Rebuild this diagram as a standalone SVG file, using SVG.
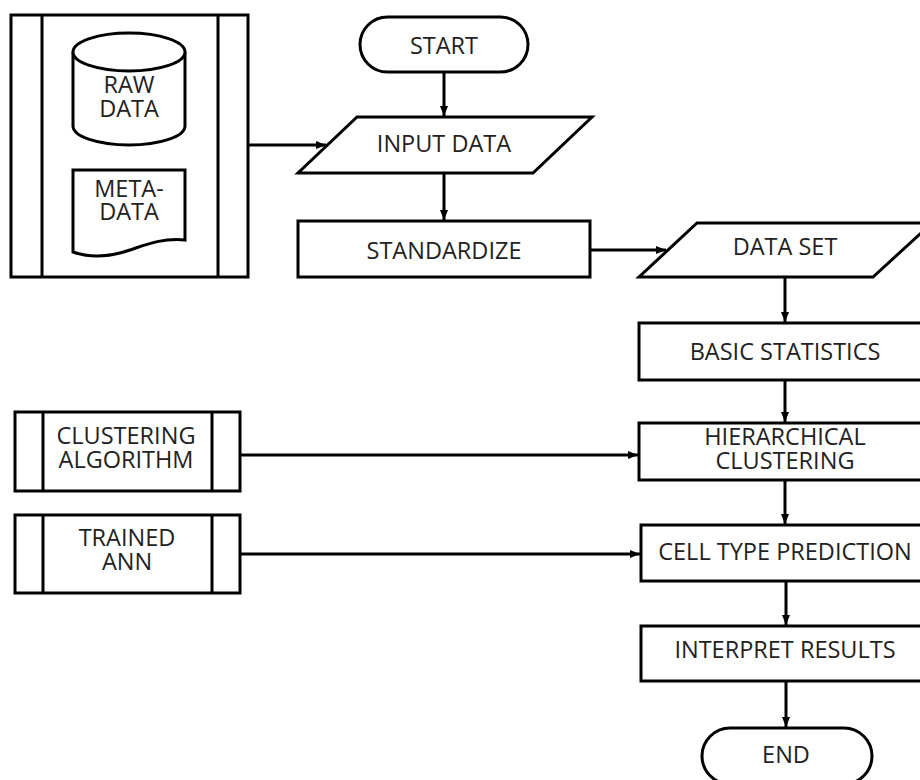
<svg xmlns="http://www.w3.org/2000/svg" width="920" height="780" viewBox="0 0 920 780">
<defs>
<style>
.s{fill:#fff;stroke:#000;stroke-width:3}
.l{fill:none;stroke:#000;stroke-width:3}
.c{fill:none;stroke:#000;stroke-width:3}
text{font-family:"Open Sans","Noto Sans","DejaVu Sans",sans-serif;font-size:23.5px;fill:#222;text-anchor:middle}
</style>
<marker id="ah" markerWidth="10" markerHeight="8" refX="10" refY="4" orient="auto" markerUnits="userSpaceOnUse">
<path d="M0,0 L10,4 L0,8 Z" fill="#000"/>
</marker>
</defs>
<rect width="920" height="780" fill="#fff"/>
<g id="connectors">
<line class="c" x1="248" y1="145" x2="326" y2="145" marker-end="url(#ah)"/>
<line class="c" x1="444" y1="72" x2="444" y2="116" marker-end="url(#ah)"/>
<line class="c" x1="444" y1="173" x2="444" y2="220" marker-end="url(#ah)"/>
<line class="c" x1="590" y1="250" x2="666" y2="250" marker-end="url(#ah)"/>
<line class="c" x1="785" y1="277" x2="785" y2="322" marker-end="url(#ah)"/>
<line class="c" x1="785" y1="380" x2="785" y2="422" marker-end="url(#ah)"/>
<line class="c" x1="785" y1="480" x2="785" y2="524" marker-end="url(#ah)"/>
<line class="c" x1="786" y1="581" x2="786" y2="625" marker-end="url(#ah)"/>
<line class="c" x1="786" y1="681" x2="786" y2="727" marker-end="url(#ah)"/>
<line class="c" x1="240" y1="455" x2="638" y2="455" marker-end="url(#ah)"/>
<line class="c" x1="240" y1="554" x2="640" y2="554" marker-end="url(#ah)"/>
</g>
<g id="sources">
<rect class="s" x="11" y="15" width="237" height="262"/>
<line class="l" x1="42" y1="15" x2="42" y2="277"/>
<line class="l" x1="218" y1="15" x2="218" y2="277"/>
</g>
<g id="raw-data">
<path class="s" d="M73,52 V126 A56,19 0 0,0 185,126 V52"/>
<ellipse class="s" cx="129" cy="52" rx="56" ry="19"/>
<text x="129" y="93">RAW<tspan x="129" dy="24">DATA</tspan></text>
</g>
<g id="meta-data">
<path class="s" d="M73,170 H185 V240 C162,238 148,244 130,250 C110,257 90,258 73,252 Z"/>
<text x="129" y="197">META-<tspan x="129" dy="23">DATA</tspan></text>
</g>
<g id="start">
<rect class="s" x="360" y="17" width="168" height="55" rx="27.5"/>
<text x="444" y="54">START</text>
</g>
<g id="input-data">
<path class="s" d="M357,117 H592 L533,173 H298 Z"/>
<text x="444" y="152">INPUT DATA</text>
</g>
<g id="standardize">
<rect class="s" x="298" y="221" width="292" height="56"/>
<text x="444" y="259">STANDARDIZE</text>
</g>
<g id="data-set">
<path class="s" d="M697,223 H932 L873,277 H639 Z"/>
<text x="785" y="255">DATA SET</text>
</g>
<g id="basic-statistics">
<rect class="s" x="639" y="323" width="292" height="57"/>
<text x="785" y="360">BASIC STATISTICS</text>
</g>
<g id="hierarchical-clustering">
<rect class="s" x="639" y="423" width="292" height="57"/>
<text x="785" y="445">HIERARCHICAL<tspan x="785" dy="24">CLUSTERING</tspan></text>
</g>
<g id="cell-type-prediction">
<rect class="s" x="641" y="525" width="292" height="56"/>
<text x="785" y="560">CELL TYPE PREDICTION</text>
</g>
<g id="interpret-results">
<rect class="s" x="641" y="626" width="292" height="55"/>
<text x="785" y="658">INTERPRET RESULTS</text>
</g>
<g id="end">
<rect class="s" x="702" y="728" width="170" height="56" rx="28"/>
<text x="786" y="763">END</text>
</g>
<g id="clustering-algorithm">
<rect class="s" x="15" y="412" width="225" height="79"/>
<line class="l" x1="43" y1="412" x2="43" y2="491"/>
<line class="l" x1="212" y1="412" x2="212" y2="491"/>
<text x="126" y="444">CLUSTERING<tspan x="126" dy="24">ALGORITHM</tspan></text>
</g>
<g id="trained-ann">
<rect class="s" x="15" y="515" width="225" height="78"/>
<line class="l" x1="43" y1="515" x2="43" y2="593"/>
<line class="l" x1="212" y1="515" x2="212" y2="593"/>
<text x="127" y="546">TRAINED<tspan x="127" dy="24">ANN</tspan></text>
</g>
</svg>
